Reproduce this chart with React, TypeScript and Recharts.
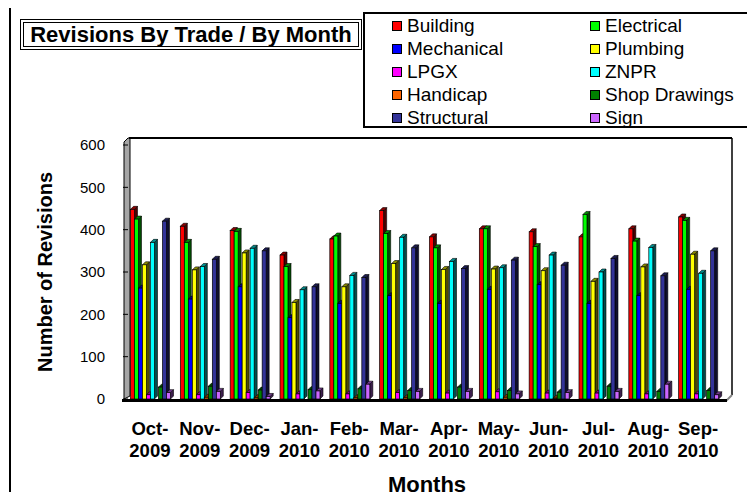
import React from 'react';
import { BarChart, Bar, XAxis, YAxis, Legend, ReferenceArea, Label } from 'recharts';

const FONT = '"Liberation Sans", Arial, Helvetica, sans-serif';

const MONTHS = ['Oct-2009', 'Nov-2009', 'Dec-2009', 'Jan-2010', 'Feb-2010', 'Mar-2010', 'Apr-2010', 'May-2010', 'Jun-2010', 'Jul-2010', 'Aug-2010', 'Sep-2010'];

const BUILDING = [448, 408, 398, 340, 378, 445, 383, 402, 395, 383, 402, 430];
const ELECTRICAL = [425, 370, 396, 313, 385, 391, 357, 402, 360, 436, 373, 422];
const MECHANICAL = [262, 236, 265, 192, 226, 244, 226, 259, 270, 226, 244, 259];
const PLUMBING = [317, 305, 345, 228, 265, 320, 306, 307, 303, 278, 312, 342];
const LPGX = [10, 10, 15, 12, 12, 15, 14, 17, 14, 14, 12, 12];
const ZNPR = [370, 313, 356, 258, 292, 382, 325, 310, 340, 300, 358, 297];
const HANDICAP = [0, 4, 3, 0, 3, 3, 0, 4, 2, 0, 0, 0];
const SHOP_DRAWINGS = [28, 30, 21, 22, 24, 20, 28, 20, 16, 30, 18, 20];
const STRUCTURAL = [420, 330, 350, 265, 287, 357, 308, 328, 316, 332, 291, 350];
const SIGN = [15, 18, 6, 19, 35, 18, 18, 12, 15, 18, 35, 10];

const Y_TICKS = [0, 100, 200, 300, 400, 500, 600];

const SERIES = [
  { key: 'building', name: 'Building', color: '#FF0000', values: BUILDING },
  { key: 'electrical', name: 'Electrical', color: '#00FF00', values: ELECTRICAL },
  { key: 'mechanical', name: 'Mechanical', color: '#0000FF', values: MECHANICAL },
  { key: 'plumbing', name: 'Plumbing', color: '#FFFF00', values: PLUMBING },
  { key: 'lpgx', name: 'LPGX', color: '#FF00FF', values: LPGX },
  { key: 'znpr', name: 'ZNPR', color: '#00FFFF', values: ZNPR },
  { key: 'handicap', name: 'Handicap', color: '#FF6600', values: HANDICAP },
  { key: 'shop', name: 'Shop Drawings', color: '#008000', values: SHOP_DRAWINGS },
  { key: 'structural', name: 'Structural', color: '#333399', values: STRUCTURAL },
  { key: 'sign', name: 'Sign', color: '#CC66FF', values: SIGN },
];

const data = MONTHS.map((m, i) => {
  const row: Record<string, any> = { month: m };
  SERIES.forEach((s) => {
    row[s.key] = s.values[i];
  });
  return row;
});

function shade(hex: string, f: number): string {
  const h = hex.replace('#', '');
  const r = Math.round(parseInt(h.slice(0, 2), 16) * f);
  const g = Math.round(parseInt(h.slice(2, 4), 16) * f);
  const b = Math.round(parseInt(h.slice(4, 6), 16) * f);
  return `rgb(${r},${g},${b})`;
}

const DEPTH = 3;

function Bar3D(props: any) {
  const { x, y, width, height, fill } = props;
  if (!height || height <= 0 || !isFinite(y)) return <g />;
  const d = DEPTH;
  const side = `M${x + width},${y} L${x + width + d},${y - d} L${x + width + d},${y + height - d} L${x + width},${y + height} Z`;
  const top = `M${x},${y} L${x + d},${y - d} L${x + width + d},${y - d} L${x + width},${y} Z`;
  return (
    <g>
      <path d={side} fill={shade(fill, 0.3)} stroke="#000" strokeWidth={0.6} />
      <path d={top} fill={shade(fill, 0.55)} stroke="#000" strokeWidth={0.6} />
      <rect x={x} y={y} width={width} height={height} fill={fill} stroke="#000" strokeWidth={0.7} />
    </g>
  );
}

function Frame(props: any) {
  const { x, y, width, height } = props;
  const b = y + height;
  const r = x + width;
  return (
    <g>
      <path
        d={`M${x - 4},${b} L${x - 4},${y - 3} L${x},${y - 7} L${x + 2},${y - 7} L${x + 2},${b - 3} Z`}
        fill="#a6a6a6"
        stroke="#000"
        strokeWidth={1}
      />
      <line x1={x + 1} y1={y - 7} x2={r + 6} y2={y - 7} stroke="#000" strokeWidth={2} />
      <line x1={r + 6} y1={y - 7} x2={r + 6} y2={b - 4} stroke="#000" strokeWidth={1.5} />
      <path d={`M${r},${b + 2} L${r + 6},${b - 4}`} stroke="#888" strokeWidth={2} />
      <line x1={x - 6} y1={b + 1.5} x2={r + 1} y2={b + 1.5} stroke="#000" strokeWidth={3} />
    </g>
  );
}

function MonthTick(props: any) {
  const { x, y, payload } = props;
  const parts = String(payload.value).split('-');
  return (
    <text x={x - 3} y={y} textAnchor="middle" fontFamily={FONT} fontSize={18.5} fontWeight="bold" fill="#000">
      <tspan x={x - 3} dy={35.6}>{parts[0]}-</tspan>
      <tspan x={x - 3} dy={22}>{parts[1]}</tspan>
    </text>
  );
}

function LegendBox() {
  return (
    <div
      style={{
        boxSizing: 'border-box',
        width: '100%',
        height: '100%',
        border: '2px solid #000',
        background: '#fff',
        paddingTop: 0,
        paddingLeft: 27,
        display: 'grid',
        gridTemplateColumns: '198px 170px',
        gridAutoRows: '23px',
        fontFamily: FONT,
        fontSize: 19,
        color: '#000',
      }}
    >
      {SERIES.map((s) => (
        <div key={s.key} style={{ display: 'flex', alignItems: 'center', whiteSpace: 'nowrap' }}>
          <span
            style={{
              display: 'inline-block',
              boxSizing: 'border-box',
              width: 10,
              height: 10,
              background: s.color,
              border: '1px solid #000',
              marginRight: 5,
            }}
          />
          <span>{s.name}</span>
        </div>
      ))}
    </div>
  );
}

export default function App() {
  return (
    <div style={{ position: 'relative', width: 755, height: 500, margin: -8, overflow: 'hidden', background: '#fff' }}>
      <div
        style={{
          position: 'absolute',
          left: 9,
          top: 4,
          width: 800,
          height: 600,
          border: '2px solid #000',
        }}
      />
      <div
        style={{
          position: 'absolute',
          left: 20,
          top: 19,
          width: 342,
          height: 31,
          boxSizing: 'border-box',
          border: '4px double #000',
          display: 'flex',
          alignItems: 'center',
          justifyContent: 'center',
          fontFamily: FONT,
          fontWeight: 'bold',
          fontSize: 22,
          whiteSpace: 'nowrap',
          background: '#fff',
        }}
      >
        Revisions By Trade / By Month
      </div>
      <div style={{ position: 'absolute', left: 0, top: 0 }}>
        <BarChart
          width={755}
          height={500}
          data={data}
          margin={{ top: 145, right: 29, bottom: 1, left: 0 }}
          barGap={0}
          barCategoryGap="5%"
        >
          <XAxis
            dataKey="month"
            height={100}
            axisLine={false}
            tickLine={false}
            tickSize={0}
            tickMargin={0}
            interval={0}
            tick={<MonthTick />}
          >
            <Label
              value="Months"
              position="insideBottom"
              offset={7}
              style={{ fontFamily: FONT, fontSize: 22, fontWeight: 'bold', fill: '#000' }}
            />
          </XAxis>
          <YAxis
            width={128}
            domain={[0, 600]}
            ticks={Y_TICKS}
            interval={0}
            axisLine={false}
            tickLine={{ stroke: '#000', strokeWidth: 1 }}
            tickSize={5}
            tickMargin={18}
            tick={{ fontFamily: FONT, fontSize: 15, fill: '#000' }}
          >
            <Label
              value="Number of Revisions"
              angle={-90}
              position="insideLeft"
              offset={45}
              style={{ fontFamily: FONT, fontSize: 20, fontWeight: 'bold', fill: '#000', textAnchor: 'middle' }}
            />
          </YAxis>
          <ReferenceArea y1={0} y2={600} shape={<Frame />} />
          {SERIES.map((s) => (
            <Bar
              key={s.key}
              dataKey={s.key}
              name={s.name}
              fill={s.color}
              shape={<Bar3D />}
              isAnimationActive={false}
            />
          ))}
          <Legend
            verticalAlign="middle"
            align="center"
            layout="horizontal"
            content={() => <LegendBox />}
            wrapperStyle={{ left: 363, top: 12, width: 392, height: 116, right: 'auto', bottom: 'auto' }}
          />
        </BarChart>
      </div>
    </div>
  );
}
